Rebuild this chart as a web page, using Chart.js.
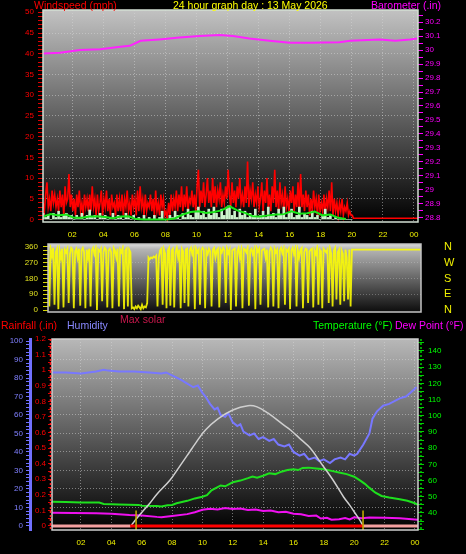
<!DOCTYPE html>
<html>
<head>
<meta charset="utf-8">
<script src="https://cdn.jsdelivr.net/npm/chart.js@4.4.1/dist/chart.umd.min.js"></script>
<style>
  html, body { margin: 0; padding: 0; background: #000; }
  #wrap { position: relative; width: 466px; height: 554px; overflow: hidden; background: #000;
          font-family: 'Liberation Sans', Arial, sans-serif; }
  canvas { position: absolute; left: 0; }
  .t { position: absolute; font-size: 10.5px; line-height: 11px; white-space: nowrap; }
</style>
</head>
<body>
<div id="wrap">
  <canvas id="windChart" width="466" height="242" style="top:0px"></canvas>
  <canvas id="dirChart" width="466" height="82" style="top:238px"></canvas>
  <canvas id="tempChart" width="466" height="224" style="top:330px"></canvas>

  <div class="t" style="left:34px;top:0px;color:#ff0000">Windspeed (mph)</div>
  <div class="t" style="left:173px;top:0px;color:#ffff00">24 hour graph day : 13 May 2026</div>
  <div class="t" style="left:371px;top:0px;color:#ff00ff">Barometer (.in)</div>
  <div class="t" style="left:120px;top:314px;color:#c8184c">Max solar</div>
  <div class="t" style="left:1px;top:320px;color:#ff0000">Rainfall (.in)</div>
  <div class="t" style="left:67px;top:320px;color:#8888ff">Humidity</div>
  <div class="t" style="left:313px;top:320px;color:#00ff00">Temperature (°F)</div>
  <div class="t" style="left:395px;top:320px;color:#ff00ff">Dew Point (°F)</div>
</div>

<script>
// ---- data (hours of the day on x) ----

// x axis labels, every 2 hours
const hourTicks = [2, 4, 6, 8, 10, 12, 14, 16, 18, 20, 22, 24];

// wind gust (mph), every 5 minutes from 00:07
const gustStart = 0.12;
const gust = [
  4, 2, 6, 9, 3, 5, 2, 7, 4, 6, 3, 5,
  2, 7, 3, 6, 1, 8, 4, 5, 11, 3, 6, 2,
  5, 1, 6, 3, 7, 2, 4, 1, 6, 3, 5, 2,
  6, 2, 8, 3, 5, 1, 6, 2, 4, 7, 1, 5,
  3, 7, 2, 5, 1, 6, 3, 4, 1, 6, 2, 5,
  2, 6, 1, 5, 3, 7, 2, 4, 1, 6, 3, 5,
  1, 7, 2, 8, 3, 5, 1, 6, 2, 4, 3, 6,
  2, 5, 1, 7, 2, 4, 1, 6, 3, 5, 1, 2,
  0, 4, 1, 6, 2, 5, 3, 7, 2, 6, 3, 8,
  2, 6, 3, 8, 2, 5, 4, 7, 3, 6, 2, 8,
  12, 3, 7, 4, 9, 3, 6, 10, 4, 7, 3, 10,
  4, 8, 3, 7, 5, 9, 3, 6, 4, 8, 5, 12,
  6, 3, 9, 4, 7, 3, 8, 5, 10, 4, 6, 3,
  8, 4, 14, 3, 7, 5, 9, 3, 6, 4, 8, 3,
  5, 9, 2, 7, 4, 10, 3, 6, 2, 8, 4, 12,
  3, 7, 2, 9, 4, 6, 2, 8, 3, 5, 2, 7,
  4, 8, 2, 6, 3, 9, 2, 11, 3, 6, 2, 7,
  3, 6, 1, 5, 2, 7, 3, 5, 1, 6, 2, 4,
  2, 6, 1, 5, 3, 7, 2, 9, 1, 5, 2, 4,
  1, 4, 2, 5, 1, 3, 2, 4, 1, 2, 1, 1
];
const calmTimes = [20.1, 24.3];
const gustCalm = [0.3, 0.3];

// wind speed (mph), every 10 minutes
const wind = [
  1.5, 0.5, 1, 0, 1.5, 0.5, 2, 0.5, 1, 1.5, 0.5, 1,
  0, 1, 0.5, 1.5, 0, 1, 2.3, 0.5, 1, 0, 1.5, 0.5,
  1, 0, 0.5, 1.5, 0, 1, 0.5, 0, 1.5, 0.5, 0, 1,
  0, 0.5, 0, 1, 0, 0.5, 0, 1, 0, 0.5, 2, 0,
  0, 1, 0.5, 2, 1, 0, 1.5, 0.5, 2.5, 1, 0.5, 2,
  3, 1, 2, 0.5, 2.5, 1, 3, 1.5, 0.5, 2.5, 1, 3,
  3.3, 1, 2, 0.5, 2.5, 1, 2, 0.5, 1.5, 1, 2.5, 0.5,
  1, 2, 0.5, 3, 1, 1.5, 0.5, 2.5, 1, 3, 0.5, 1.5,
  2.5, 0.5, 1, 3, 0.5, 1.5, 1, 0.5, 2, 0.5, 1, 0,
  1, 2.5, 0.5, 1, 0, 0.5, 0, 0, 0, 0, 0, 0
];

// average wind speed (mph), every 30 minutes
const windAvg = [
  0.7, 1.3, 1.0, 1.2, 0.4, 0.4, 0.7, 0.8, 0.6, 0.3,
  0.7, 0.8, 0.1, 0, 0, 0, 0, 0.3, 1.2, 1.8,
  2.0, 1.6, 1.8, 2.2, 3.2, 2.2, 1.6, 0.8, 0.7, 1.0,
  1.2, 1.3, 2.0, 1.4, 1.5, 1.9, 1.0, 1.2, 0.4, 0.1
];

// barometer (in)
const baroTimes = [0.12, 1.2, 2.5, 3.8, 5.1, 5.7, 6.4, 7.6, 8.9, 10.2, 11.5, 12.35,
                   13.4, 14.7, 16.0, 17.3, 19.2, 19.9, 21.8, 22.8, 23.75, 24.2];
const baro = [29.976, 29.98, 30.0, 30.005, 30.024, 30.03, 30.066, 30.076, 30.09, 30.10, 30.107, 30.10,
              30.083, 30.066, 30.052, 30.052, 30.055, 30.066, 30.076, 30.066, 30.076, 30.083];

// wind direction (degrees), every 5 minutes
const dir = [
  340, 20, 350, 310, 355, 30, 330, 350, 5, 340, 300, 350,
  15, 345, 330, 350, 40, 320, 355, 345, 10, 335, 350, 300,
  350, 25, 340, 355, 330, 10, 345, 300, 350, 20, 340, 355,
  320, 350, 0, 345, 335, 350, 50, 330, 355, 345, 15, 340,
  350, 330, 10, 355, 340, 300, 350, 20, 345, 330, 355, 5,
  340, 350, 20, 345, 330, 10, 15, 5, 20, 10, 25, 15,
  5, 30, 10, 20, 15, 40, 300, 290, 300, 295, 305, 300,
  310, 20, 300, 340, 350, 30, 345, 320, 10, 340, 355, 25,
  340, 350, 15, 330, 355, 300, 345, 10, 350, 335, 40, 345,
  350, 20, 340, 355, 320, 345, 5, 350, 330, 345, 30, 340,
  355, 345, 10, 340, 320, 350, 335, 20, 345, 355, 300, 340,
  350, 15, 345, 330, 355, 340, 40, 350, 325, 345, 0, 340,
  345, 350, 20, 335, 355, 300, 340, 10, 350, 345, 330, 355,
  25, 340, 350, 320, 345, 5, 355, 335, 350, 30, 340, 345,
  350, 300, 345, 15, 335, 355, 340, 20, 350, 330, 345, 10,
  340, 355, 325, 350, 30, 345, 335, 350, 5, 340, 355, 320,
  350, 20, 340, 300, 345, 355, 10, 330, 350, 345, 40, 335,
  345, 350, 15, 340, 320, 355, 30, 345, 335, 10, 350, 340,
  330, 345, 40, 350, 320, 20, 340, 355, 60, 330, 345, 30,
  340, 320, 50, 345, 300, 60, 345, 20, 345, 345, 345, 345
];
const dirCalmTimes = [20.0, 24.3];
const dirCalm = [345, 345];
const compassTicks = [0, 90, 180, 270, 360];
const compassLabels = ['N', 'E', 'S', 'W', 'N'];

// humidity (%)
const humTimes = [0.1, 1.0, 2.0, 2.5, 3.0, 3.5, 3.8, 4.5, 5.5, 6.5, 7.3, 7.6, 8.1, 8.6, 9.0, 9.4, 9.7,
                  10.0, 10.2, 10.5, 10.8, 11.0, 11.2, 11.5, 11.7, 12.0, 12.3, 12.5, 12.7, 13.1, 13.4,
                  13.7, 14.0, 14.4, 14.7, 15.0, 15.4, 15.7, 16.0, 16.4, 16.7, 17.0, 17.4, 17.7, 18.0,
                  18.4, 18.7, 19.1, 19.4, 19.7, 20.0, 20.2, 20.6, 21.0, 21.2, 21.5, 21.9, 22.3, 23.0,
                  23.4, 23.7, 24.1];
const humidity = [83, 83, 82.5, 83, 83.5, 84.5, 84, 83.5, 83.5, 83, 82.5, 83, 81, 79, 77, 75, 76,
                  72, 70, 66, 63, 64, 60, 59, 61, 56, 54, 55, 51, 49, 50,
                  47, 48, 46, 47, 44, 43, 44, 40, 38, 39, 36, 37, 35, 36,
                  34, 36, 37, 36, 39, 38, 39, 44, 50, 58, 62, 65, 66, 69,
                  70, 72, 75];

// temperature (F)
const tempTimes = [0.1, 1.0, 2.0, 3.2, 3.5, 4.5, 5.8, 6.0, 7.0, 7.3, 7.7, 8.0, 8.3, 9.0, 9.5, 10.0,
                   10.3, 10.6, 11.0, 11.2, 11.5, 11.8, 12.0, 12.5, 13.0, 13.3, 13.6, 14.0, 14.4, 14.8,
                   15.2, 15.6, 16.0, 16.3, 16.6, 17.0, 17.5, 18.0, 18.5, 19.0, 19.5, 20.0, 20.4, 20.7,
                   21.0, 21.4, 21.8, 22.3, 23.0, 23.5, 24.0, 24.2];
const temperature = [47, 46.8, 46.5, 46.4, 45.6, 45.3, 45, 44.5, 44.3, 44, 44.8, 45, 46, 47.5, 49, 50,
                     51, 54, 56, 57, 56.5, 58, 59, 60, 61.5, 62.5, 61.8, 63, 64.5, 64,
                     65.5, 66.5, 67, 66.5, 67.8, 68, 67.5, 67, 66, 65, 64, 62.4, 60, 58,
                     55.5, 52.5, 50.5, 49.5, 48.5, 47.5, 46, 45];

// dew point (F)
const dewTimes = [0.1, 1.5, 3.0, 4.0, 5.2, 6.0, 7.0, 7.3, 8.0, 9.0, 9.5, 10.0, 10.5, 11.0, 11.5, 12.0,
                  12.5, 13.0, 13.5, 14.0, 14.5, 15.0, 15.5, 16.0, 16.5, 17.0, 17.5, 17.8, 18.2, 18.5,
                  19.0, 19.4, 19.7, 20.0, 20.5, 21.0, 22.0, 23.0, 23.6, 24.2];
const dewPoint = [40.2, 40, 39.8, 39.5, 38.8, 38.5, 37.6, 37.4, 38.2, 39.3, 40.5, 42, 42.6, 42.2, 43, 42.5,
                  42.8, 41.8, 42.2, 41.2, 41.5, 40.5, 40.8, 39.6, 39.2, 38.2, 38.4, 36.6, 37, 35.8,
                  36.2, 36.9, 36, 37.3, 36.8, 37.2, 37.1, 36.8, 36.3, 35.8];

// max solar (W/m2)
const solarTimes = [5.24, 5.6, 6.0, 6.55, 7.0, 7.87, 8.5, 9.0, 9.6, 10.2, 11.0, 12.0, 13.0, 13.6,
                    14.3, 15.3, 15.8, 16.5, 17.1, 17.9, 18.6, 19.3, 19.7, 20.05, 20.4, 20.6];
const solar = [0, 60, 120, 198, 270, 387, 500, 590, 700, 800, 890, 965, 1000, 990,
               940, 846, 800, 720, 651, 511, 387, 247, 180, 115, 50, 0];

// rainfall (in)
const rainTimes = [0.09, 5.24, 20.6, 24.2];
const rain = [0, 0, 0, 0];

// sunrise / sunset
const sunTimes = [5.63, 20.58];

// ---- helpers ----
function steps(start, step, n) {
    const t = [];
    for (let i = 0; i < n; i++) t.push(start + i * step);
    return t;
}
function pts(times, values) {
    return values.map((v, i) => ({ x: times[i], y: v }));
}
function range(a, b, step) {
    const out = [];
    const n = Math.round((b - a) / step);
    for (let i = 0; i <= n; i++) out.push(Math.round((a + i * step) * 1000) / 1000);
    return out;
}
function fixWidth(w) {
    return scale => { scale.width = w; scale.paddingTop = 0; scale.paddingBottom = 0; };
}
function fixHeight(h) {
    return scale => { scale.height = h; scale.paddingLeft = 0; scale.paddingRight = 0; };
}
function setTicks(values) {
    return scale => { scale.ticks = values.map(v => ({ value: v })); };
}
function hourLabel(v) {
    return String(v % 24).padStart(2, '0');
}
function oneDecimal(v) {
    return Math.round(v * 100) % 10 === 0 ? String(+v.toFixed(1)) : '';
}

const gridColor = 'rgba(215,215,215,0.5)';
const yellow = '#f0f000';

Chart.defaults.font.family = "'Liberation Sans', Arial, sans-serif";
Chart.defaults.font.size = 8;
Chart.defaults.animation = false;
Chart.defaults.elements.point.radius = 0;
Chart.defaults.plugins.legend.display = false;
Chart.defaults.plugins.tooltip.enabled = false;

// gradient behind each plot and its frame
Chart.register({
    id: 'panel',
    beforeDraw: (chart, args, opts) => {
        const a = chart.chartArea;
        const ctx = chart.ctx;
        const g = ctx.createLinearGradient(0, a.top, 0, a.bottom);
        (opts.stops || []).forEach(s => g.addColorStop(s[0], s[1]));
        ctx.save();
        ctx.fillStyle = g;
        ctx.fillRect(a.left, a.top, a.right - a.left, a.bottom - a.top);
        ctx.restore();
    },
    afterDraw: (chart, args, opts) => {
        const a = chart.chartArea;
        const ctx = chart.ctx;
        ctx.save();
        ctx.strokeStyle = opts.border || '#d0d0d0';
        ctx.lineWidth = 1.5;
        ctx.strokeRect(a.left, a.top, a.right - a.left, a.bottom - a.top);
        (opts.dotted || []).forEach(d => {
            const x = d.side === 'left' ? a.left + d.offset : a.right + d.offset;
            ctx.strokeStyle = d.color;
            ctx.lineWidth = 1.5;
            ctx.setLineDash([2, 2]);
            ctx.beginPath();
            ctx.moveTo(x, a.top);
            ctx.lineTo(x, a.bottom);
            ctx.stroke();
        });
        ctx.restore();
    }
});

// ---- windspeed / barometer ----
const windTicks = range(0, 50, 1);
const baroTicks = range(28.8, 30.25, 0.05);

new Chart(document.getElementById('windChart'), {
    type: 'line',
    data: {
        datasets: [{
            label: 'Gust',
            data: pts(steps(gustStart, 1 / 12, gust.length), gust).concat(pts(calmTimes, gustCalm)),
            borderColor: '#ff0000',
            borderWidth: 1.6,
            yAxisID: 'yW',
            order: 3
        }, {
            type: 'bar',
            label: 'Wind',
            data: pts(steps(gustStart, 1 / 6, wind.length), wind),
            backgroundColor: '#cdf3cd',
            barThickness: 2,
            yAxisID: 'yW',
            order: 2
        }, {
            label: 'Average',
            data: pts(steps(gustStart, 0.5, windAvg.length), windAvg),
            borderColor: '#19e619',
            borderWidth: 2,
            yAxisID: 'yW',
            order: 1
        }, {
            label: 'Barometer',
            data: pts(baroTimes, baro),
            borderColor: '#ff22ff',
            borderWidth: 2,
            yAxisID: 'yB',
            order: 0
        }]
    },
    options: {
        responsive: false,
        layout: { padding: { top: 10, left: 0, right: 0, bottom: 0 } },
        plugins: {
            panel: { stops: [[0, '#c2c2c2'], [1, '#000000']], border: '#d4e0d4' }
        },
        scales: {
            x: {
                type: 'linear', min: 0.116, max: 24.26, offset: false,
                afterFit: fixHeight(20),
                afterBuildTicks: setTicks(hourTicks),
                grid: { color: gridColor, drawTicks: false, offset: false },
                border: { display: false, dash: [1, 2] },
                ticks: { color: yellow, padding: 8, autoSkip: false, maxRotation: 0, callback: hourLabel }
            },
            yW: {
                position: 'left', min: -0.6, max: 50.55,
                afterFit: fixWidth(43),
                afterBuildTicks: setTicks(windTicks),
                grid: {
                    color: c => (c.tick && c.tick.value % 5 === 0 && c.tick.value > 0 && c.tick.value < 50) ? gridColor : 'transparent',
                    tickColor: '#e00000', tickLength: 5
                },
                border: { display: false, dash: [1, 2] },
                ticks: { color: '#ff0000', padding: 4, autoSkip: false, callback: v => v % 5 === 0 ? String(v) : '' }
            },
            yB: {
                position: 'right', min: 28.771, max: 30.286,
                afterFit: fixWidth(48),
                afterBuildTicks: setTicks(baroTicks),
                grid: { drawOnChartArea: false, tickColor: '#ff00ff', tickLength: 5 },
                border: { display: false },
                ticks: { color: '#ff00ff', padding: 2, autoSkip: false, callback: oneDecimal }
            }
        }
    }
});

// ---- wind direction ----
const dirTicks = range(0, 360, 22.5);

new Chart(document.getElementById('dirChart'), {
    type: 'line',
    data: {
        datasets: [{
            label: 'Direction',
            data: pts(steps(gustStart, 1 / 12, dir.length), dir).concat(pts(dirCalmTimes, dirCalm)),
            borderColor: 'rgba(255,255,0,0.88)',
            borderWidth: 1.8,
            yAxisID: 'yD'
        }]
    },
    options: {
        responsive: false,
        layout: { padding: { top: 6, left: 0, right: 0, bottom: 8 } },
        plugins: {
            panel: { stops: [[0, '#dcdcdc'], [0.08, '#b4b4b4'], [1, '#0c0c0c']], border: '#c4c4c4' }
        },
        scales: {
            x: { type: 'linear', min: 0.116, max: 24.26, display: false },
            yD: {
                position: 'left', min: -11.4, max: 377,
                afterFit: fixWidth(48),
                afterBuildTicks: setTicks(dirTicks),
                grid: {
                    color: c => (c.tick && c.tick.value % 90 === 0 && c.tick.value > 0 && c.tick.value < 360) ? 'rgba(210,210,210,0.35)' : 'transparent',
                    tickColor: '#d8d800', tickLength: 5
                },
                border: { display: false, dash: [1, 2] },
                ticks: { color: '#e0e020', padding: 5, autoSkip: false, callback: v => v % 90 === 0 ? String(v) : '' }
            },
            yN: {
                position: 'right', min: -11.4, max: 377,
                afterFit: fixWidth(45),
                afterBuildTicks: setTicks(compassTicks),
                grid: { display: false },
                border: { display: false },
                ticks: {
                    color: yellow, padding: 15, autoSkip: false, font: { size: 11 },
                    callback: v => compassLabels[compassTicks.indexOf(v)]
                }
            }
        }
    }
});

// ---- temperature / humidity / rain ----
const humTicks = range(0, 100, 2);
const rainTicks = range(0, 1.2, 0.05);
const tempTicks = range(30, 145, 5);

new Chart(document.getElementById('tempChart'), {
    type: 'line',
    data: {
        datasets: [{
            label: 'Sun',
            data: [{ x: sunTimes[0], y: -0.03 }, { x: sunTimes[0], y: 0.1 }, { x: sunTimes[0], y: null },
                   { x: sunTimes[1], y: -0.03 }, { x: sunTimes[1], y: 0.1 }],
            borderColor: '#c8b000',
            borderWidth: 1.5,
            yAxisID: 'yR',
            order: 0
        }, {
            label: 'Rainfall',
            data: pts(rainTimes, rain),
            borderWidth: 3,
            borderColor: '#ff0000',
            segment: { borderColor: c => c.p0DataIndex === 1 ? '#ff0000' : '#f4a0a0' },
            yAxisID: 'yR',
            order: 1
        }, {
            label: 'Max solar',
            data: pts(solarTimes, solar),
            borderColor: '#cfcfcf',
            borderWidth: 1.5,
            tension: 0.4,
            yAxisID: 'yS',
            order: 2
        }, {
            label: 'Dew Point',
            data: pts(dewTimes, dewPoint),
            borderColor: '#f010f0',
            borderWidth: 2,
            yAxisID: 'yT',
            order: 3
        }, {
            label: 'Temperature',
            data: pts(tempTimes, temperature),
            borderColor: '#1ee01e',
            borderWidth: 2,
            yAxisID: 'yT',
            order: 4
        }, {
            label: 'Humidity',
            data: pts(humTimes, humidity),
            borderColor: '#7878ff',
            borderWidth: 2,
            yAxisID: 'yH',
            order: 5
        }]
    },
    options: {
        responsive: false,
        layout: { padding: { top: 9, left: 0, right: 0, bottom: 0 } },
        plugins: {
            panel: {
                stops: [[0, '#b8b8b8'], [1, '#000000']],
                border: '#d0d0d0',
                dotted: [{ side: 'left', offset: -1.5, color: '#ff2020' }, { side: 'right', offset: 3, color: '#00d000' }]
            }
        },
        scales: {
            x: {
                type: 'linear', min: 0.092, max: 24.2,
                afterFit: fixHeight(24),
                afterBuildTicks: setTicks(hourTicks),
                grid: { color: gridColor, drawTicks: false },
                border: { display: false, dash: [1, 2] },
                ticks: { color: yellow, padding: 8, autoSkip: false, maxRotation: 0, callback: hourLabel }
            },
            yH: {
                position: 'left', weight: 1, min: -2.2, max: 101.1,
                afterFit: fixWidth(30),
                afterBuildTicks: setTicks(humTicks),
                grid: {
                    color: c => (c.tick && c.tick.value % 10 === 0 && c.tick.value > 0 && c.tick.value < 100) ? gridColor : 'transparent',
                    tickColor: '#7070ff', tickLength: 4
                },
                border: { display: true, color: '#7070ff', width: 3, dash: [1, 2] },
                ticks: { color: '#8080ff', padding: 3, autoSkip: false, callback: v => v % 10 === 0 ? String(v) : '' }
            },
            yR: {
                position: 'left', weight: 0, min: -0.0257, max: 1.2,
                afterFit: fixWidth(22),
                afterBuildTicks: setTicks(rainTicks),
                grid: { drawOnChartArea: false, tickColor: '#e00000', tickLength: 4 },
                border: { display: false },
                ticks: { color: '#ff0000', padding: 2, autoSkip: false, callback: oneDecimal }
            },
            yT: {
                position: 'right', min: 29.5, max: 147.4,
                afterFit: fixWidth(48),
                afterBuildTicks: setTicks(tempTicks),
                grid: { drawOnChartArea: false, tickColor: '#00d000', tickLength: 6 },
                border: { display: false },
                ticks: { color: '#00ff00', padding: 4, autoSkip: false, callback: v => (v % 10 === 0 && v >= 40) ? String(v) : '' }
            },
            yS: { display: false, min: -25, max: 1550 }
        }
    }
});
</script>
</body>
</html>
